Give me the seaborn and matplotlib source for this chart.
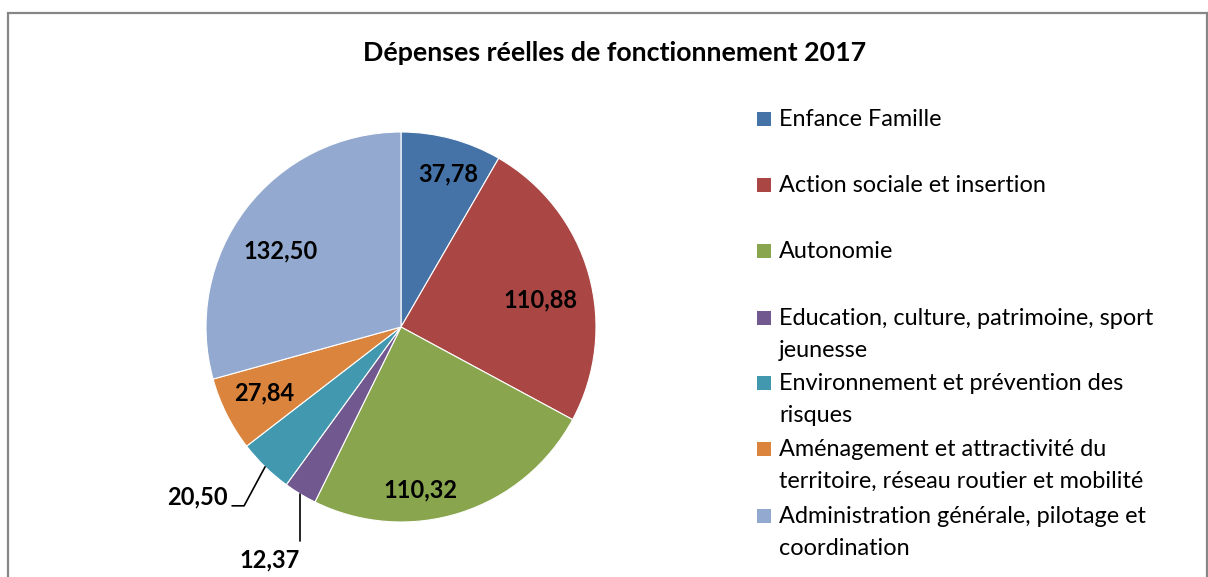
import numpy as np
import matplotlib
matplotlib.use("Agg")
import matplotlib.pyplot as plt
import seaborn as sns
from matplotlib.patches import Rectangle

categories = [
    "Enfance Famille",
    "Action sociale et insertion",
    "Autonomie",
    "Education, culture, patrimoine, sport\njeunesse",
    "Environnement et prévention des\nrisques",
    "Aménagement et attractivité du\nterritoire, réseau routier et mobilité",
    "Administration générale, pilotage et\ncoordination",
]
values = [37.78, 110.88, 110.32, 12.37, 20.50, 27.84, 132.50]
value_labels = ["37,78", "110,88", "110,32", "12,37", "20,50", "27,84", "132,50"]
colors = ["#4572A7", "#AA4643", "#89A54E", "#71588F", "#4198AF", "#DB843D", "#93A9CF"]

sns.set_style("white")
plt.rcParams["font.family"] = ["Lato", "DejaVu Sans"]
plt.rcParams["text.color"] = "black"

W, H = 1208, 577
fig = plt.figure(figsize=(W / 100, H / 100), dpi=100)

# outer chart frame
fig.patches.append(Rectangle((8 / W, -0.05), 1199 / W, 1.05 - 13 / H,
                             transform=fig.transFigure, fill=False,
                             edgecolor="#868686", linewidth=1.6))

fig.text(615 / W, 1 - 53 / H, "Dépenses réelles de fonctionnement 2017",
         ha="center", va="center", fontsize=19.3, fontweight="bold")

cx, cy, R = 401, 577 - 327, 195
ax = fig.add_axes([(cx - R) / W, (cy - R) / H, 2 * R / W, 2 * R / H])
wedges, _ = ax.pie(values, colors=colors, startangle=90, counterclock=False,
                   radius=1, wedgeprops=dict(linewidth=0.8, edgecolor="white"))
ax.set_xlim(-1, 1)
ax.set_ylim(-1, 1)
ax.set_aspect("equal")
ax.axis("off")

lab_fs = 17
# label placement (radius fraction, angle tweak in degrees)
label_r = [0.82, 0.73, 0.84, None, None, 0.78, 0.73]
label_da = [-2, -5, -11, 0, 0, -1, 5]
for i, w in enumerate(wedges):
    mid = np.deg2rad((w.theta1 + w.theta2) / 2)
    if label_r[i] is not None:
        a = mid + np.deg2rad(label_da[i])
        ax.text(label_r[i] * np.cos(a), label_r[i] * np.sin(a), value_labels[i],
                ha="center", va="center", fontsize=lab_fs, fontweight="bold")
    else:
        ex, ey = np.cos(mid), np.sin(mid)
        if i == 3:
            ax.plot([ex, ex], [ey, ey - 47 / R], color="black", lw=1.2, clip_on=False)
            ax.text(ex - 31 / R, ey - 66 / R, value_labels[i], ha="center", va="center",
                    fontsize=lab_fs, fontweight="bold", clip_on=False)
        else:
            kx, ky = ex - 21 / R, ey - 39 / R
            ax.plot([ex, kx, kx - 12 / R], [ey, ky, ky], color="black", lw=1.2, clip_on=False)
            ax.text(kx - 47 / R, ky + 9 / R, value_labels[i], ha="center", va="center",
                    fontsize=lab_fs, fontweight="bold", clip_on=False)

# legend drawn by hand to match the stacked layout
leg_y = [119, 185, 251, 318, 383, 449, 516]
for y, lab, c in zip(leg_y, categories, colors):
    fig.patches.append(Rectangle((757 / W, 1 - (y + 7) / H), 14 / W, 14 / H,
                                 transform=fig.transFigure, facecolor=c, edgecolor="none"))
    fig.text(779 / W, 1 - (y - 10) / H, lab, ha="left", va="top",
             fontsize=16.9, linespacing=1.62)

fig.savefig("out.png", dpi=100)
